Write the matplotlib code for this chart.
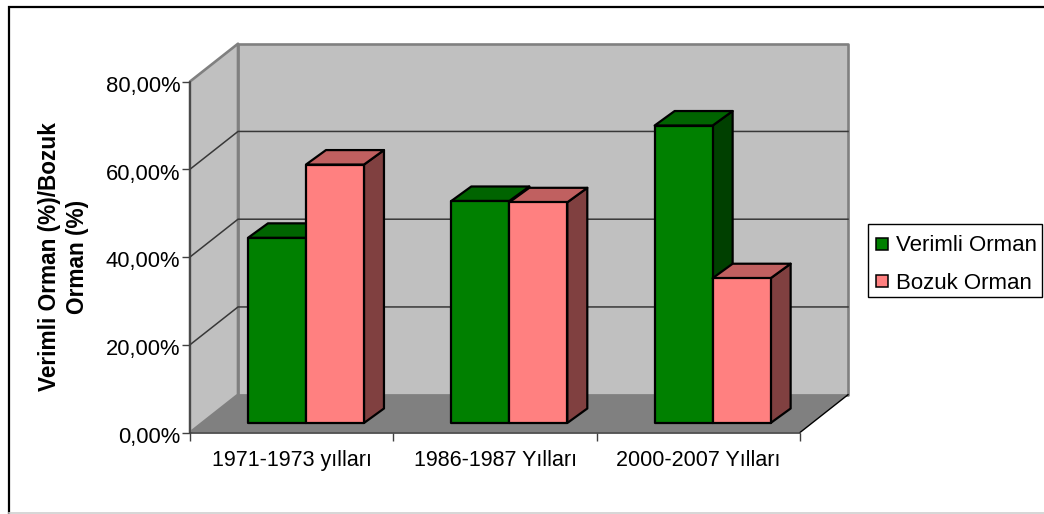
import matplotlib
matplotlib.use("Agg")
import matplotlib.pyplot as plt
from matplotlib.patches import Polygon, Rectangle
from matplotlib.lines import Line2D
from matplotlib.transforms import ScaledTranslation

plt.rcParams['font.family'] = ['Liberation Sans', 'DejaVu Sans']

# ---- data ----
categories = ["1971-1973 yılları", "1986-1987 Yılları", "2000-2007 Yılları"]
verimli = [42.2, 50.6, 67.8]
bozuk = [58.9, 50.3, 33.0]
series_names = ["Verimli Orman", "Bozuk Orman"]
y_ticks = [0, 20, 40, 60, 80]
y_labels = ["0,00%", "20,00%", "40,00%", "60,00%", "80,00%"]
y_title = "Verimli Orman (%)/Bozuk\nOrman (%)"

# ---- style / geometry ----
W, H = 1044, 514
GREEN = ("#008000", "#006400", "#004000")
PINK = ("#FF8080", "#C06060", "#804040")
LEFT, RIGHT, BOTTOM, TOP = 190, 800, 432.5, 81.5
px_x = (RIGHT - LEFT) / len(categories)
px_y = (BOTTOM - TOP) / 80
DX, DY = 48 / px_x, 37.8 / px_y      # floor depth in data units
BDX, BDY = 20 / px_x, 14.5 / px_y    # bar depth
OFFX, OFFY = 14.3 / px_x, 9.5 / px_y # bar offset from the front edge of the floor
BAR_W = 58 / px_x
GAP = (1 - 2 * BAR_W) / 2

fig = plt.figure(figsize=(W / 100, H / 100), dpi=100)
fig.add_artist(Line2D([8.8 / W, 8.8 / W, 1], [0, 1 - 6.7 / H, 1 - 6.7 / H], transform=fig.transFigure,
                      color="black", lw=1.6, zorder=-1, solid_joinstyle="miter"))
fig.add_artist(Line2D([9 / W, 1], [1 - 513 / H, 1 - 513 / H], transform=fig.transFigure,
                      color="#D0D0D0", lw=1.2, zorder=-1))
ax = fig.add_axes([LEFT / W, 1 - BOTTOM / H, (RIGHT - LEFT) / W, (BOTTOM - TOP) / H])
ax.set_xlim(0, len(categories))
ax.set_ylim(0, 80)
ax.patch.set_visible(False)
for s in ("top", "right"):
    ax.spines[s].set_visible(False)
for s in ("left", "bottom"):
    ax.spines[s].set_color("#404040")
    ax.spines[s].set_linewidth(1.2)
    ax.spines[s].set_zorder(6)

n = len(categories)
WALL = "#C0C0C0"
EDGE = "#808080"


def poly(pts, fc, ec="none", lw=0, z=1):
    ax.add_patch(Polygon(pts, closed=True, fc=fc, ec=ec, lw=lw, zorder=z, clip_on=False, joinstyle="round"))


# walls and floor
poly([(DX, DY), (n + DX, DY), (n + DX, 80 + DY), (DX, 80 + DY)], WALL, EDGE, 1.9)
poly([(0, 0), (DX, DY), (DX, 80 + DY), (0, 80)], WALL, EDGE, 1.9)
poly([(0, 0), (n, 0), (n + DX, DY), (DX, DY)], "#808080", "none", 0, 2)
ax.plot([n, n + DX], [0, DY], color="black", lw=1, zorder=3, clip_on=False)
# gridlines on the walls
for v in y_ticks[1:-1]:
    ax.plot([0, DX, n + DX], [v, v + DY, v + DY], color="#383838", lw=1.1, zorder=1.5, clip_on=False)


def bar(x, v, cols, z):
    y0 = OFFY
    y1 = OFFY + v
    x += OFFX
    w = BAR_W
    kw = dict(ec="black", lw=1.6, z=z)
    poly([(x + w, y0), (x + w + BDX, y0 + BDY), (x + w + BDX, y1 + BDY), (x + w, y1)], cols[2], **kw)
    poly([(x, y1), (x + w, y1), (x + w + BDX, y1 + BDY), (x + BDX, y1 + BDY)], cols[1], **kw)
    poly([(x, y0), (x + w, y0), (x + w, y1), (x, y1)], cols[0], **kw)


for i in range(n):
    x0 = i + GAP
    bar(x0, verimli[i], GREEN, 4 + i)
    bar(x0 + BAR_W, bozuk[i], PINK, 4.5 + i)

ax.set_yticks(y_ticks, y_labels)
ax.set_xticks(range(n + 1), [""] * (n + 1))
ax.set_xticks([i + 0.5 for i in range(n)], categories, minor=True)
ax.tick_params(axis="y", labelsize=15.8, length=6, width=1, color="#404040", pad=1, labelcolor="black")
shift = ScaledTranslation(0, -2.3 / 100, fig.dpi_scale_trans)
for lab in ax.get_yticklabels():
    lab.set_transform(lab.get_transform() + shift)
ax.tick_params(axis="x", which="major", length=6, width=1, color="#404040")
ax.tick_params(axis="x", which="minor", length=0, labelsize=15.5, pad=12.3)
ax.set_ylabel(y_title, fontsize=16.3, fontweight="bold", linespacing=1.33, va="center", ha="center")
ax.yaxis.set_label_coords((63.5 - LEFT) / (RIGHT - LEFT), 0.5)

# legend frame + entries
fig.add_artist(Rectangle((868 / W, 1 - 296.5 / H), 174 / W, 72.5 / H, transform=fig.transFigure,
                         fc="white", ec="black", lw=1, zorder=5))
handles = [Line2D([], [], ls="none", marker="s", ms=8.5, mfc=c[0], mec="black", mew=1.1) for c in (GREEN, PINK)]
leg = fig.legend(handles, series_names, loc="upper left", bbox_to_anchor=(870 / W, 1 - 235.5 / H),
                 frameon=False, fontsize=16, borderaxespad=0, borderpad=0,
                 handletextpad=0.09, labelspacing=0.74, handlelength=1.08)
leg.set_zorder(6)

fig.savefig("out.png", dpi=100)
